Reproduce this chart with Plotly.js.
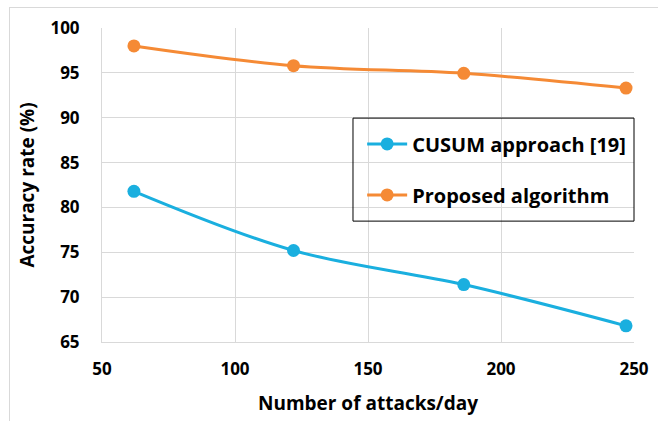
<!DOCTYPE html>
<html>
<head>
<meta charset="utf-8">
<script src="https://cdn.plot.ly/plotly-3.0.1.min.js"></script>
<style>
html,body{margin:0;padding:0;background:#fff;}
#wrap{position:relative;width:658px;height:421px;}
#frame{position:absolute;left:9px;top:7px;width:660px;height:430px;border-top:1px solid #d9d9d9;border-left:1px solid #d9d9d9;pointer-events:none;}
#chart{position:absolute;left:0;top:0;width:658px;height:421px;}
</style>
</head>
<body>
<div id="wrap">
<div id="chart"></div>
<div id="frame"></div>
</div>
<script>
const attacks = [62, 122, 186, 247];
const cusum = [81.8, 75.2, 71.4, 66.8];
const proposed = [98.0, 95.8, 94.95, 93.3];
const seriesNames = ["CUSUM approach [19]", "Proposed algorithm"];
const xTicks = [50, 100, 150, 200, 250];
const yTicks = [65, 70, 75, 80, 85, 90, 95, 100];

const fontFam = "'Open Sans', sans-serif";
const traces = [
  {x: attacks, y: cusum, name: seriesNames[0], legendgroup: "a", mode: "lines+markers",
   line: {color: "#1AAFDF", width: 3, shape: "spline"}, marker: {color: "#1AAFDF", size: 13}},
  {x: attacks, y: proposed, name: seriesNames[1], legendgroup: "b", mode: "lines+markers",
   line: {color: "#F58A35", width: 3, shape: "spline"}, marker: {color: "#F58A35", size: 13}}
];
const layout = {
  width: 658, height: 421,
  margin: {l: 102, r: 24, t: 28, b: 79},
  paper_bgcolor: "rgba(0,0,0,0)", plot_bgcolor: "#fff",
  font: {family: fontFam, size: 17, color: "#000", weight: 700},
  xaxis: {range: [50, 250], tickvals: xTicks, ticktext: xTicks.map(String),
    showgrid: true, gridcolor: "#d9d9d9", gridwidth: 1, zeroline: false,
    showline: true, linecolor: "#d9d9d9", linewidth: 1, mirror: false, ticks: "",
    tickfont: {family: fontFam, size: 17, weight: 700}, ticklabelstandoff: 12,
    title: {text: "Number of attacks/day", font: {family: fontFam, size: 19, weight: 700}, standoff: 17}},
  yaxis: {range: [65, 100], tickvals: yTicks, ticktext: yTicks.map(String),
    showgrid: true, gridcolor: "#d9d9d9", gridwidth: 1, zeroline: false,
    showline: true, linecolor: "#d9d9d9", linewidth: 1, ticks: "",
    tickfont: {family: fontFam, size: 17, weight: 700}, ticklabelstandoff: 18,
    title: {text: "Accuracy rate (%)", font: {family: fontFam, size: 19, weight: 700}, standoff: 10}},
  showlegend: true,
  legend: {x: 0.489, y: 0.693, xanchor: "left", yanchor: "top",
    borderwidth: 0, bgcolor: "rgba(0,0,0,0)",
    font: {family: fontFam, size: 20, weight: 700}, tracegroupgap: 22, traceorder: "grouped",
    itemwidth: 40},
  shapes: [{type: "rect", xref: "paper", yref: "paper", x0: 0.4718, x1: 1.0, y0: 0.385, y1: 0.713,
    line: {color: "#000", width: 1}, fillcolor: "rgba(0,0,0,0)", layer: "above"}]
};
Plotly.newPlot("chart", traces, layout, {displayModeBar: false, staticPlot: true});
</script>
</body>
</html>
